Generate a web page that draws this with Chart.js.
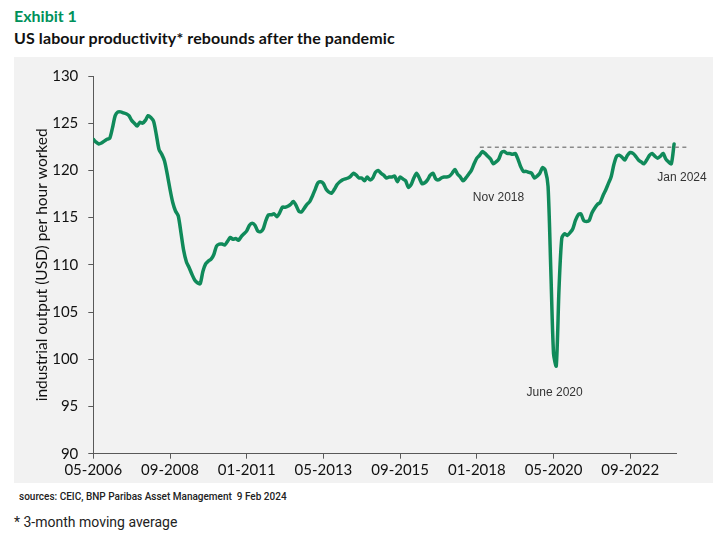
<!DOCTYPE html>
<html><head><meta charset="utf-8">
<script src="https://cdn.jsdelivr.net/npm/chart.js@4.4.1/dist/chart.umd.min.js"></script>
<style>
html,body{margin:0;padding:0;background:#fff;width:725px;height:540px;overflow:hidden;}
#t1{position:absolute;left:14px;top:6px;font:bold 16px Lato;color:#00915A;white-space:nowrap;}
#t2{position:absolute;left:14px;top:28px;font:bold 16px Lato;letter-spacing:0.1px;color:#111;white-space:nowrap;}
#panel{position:absolute;left:14px;top:57px;width:699px;height:426px;background:#f2f2f2;}
#src{position:absolute;left:19px;top:491px;font:500 10px Roboto;color:#222;white-space:nowrap;}
#note{position:absolute;left:14px;top:514px;font:14px Roboto;color:#222;white-space:nowrap;}
</style></head>
<body>
<div id="t1">Exhibit 1</div>
<div id="t2">US labour productivity* rebounds after the pandemic</div>
<div id="panel"><canvas id="c" width="699" height="426"></canvas></div>
<div id="src">sources: CEIC, BNP Paribas Asset Management&nbsp; 9 Feb 2024</div>
<div id="note">* 3-month moving average</div>
<script>
// Monthly values, May 2006 (index 0) to Jan 2024 (index 212)
const productivity = [
123.3,123.0,122.8,122.9,123.1,123.3,123.4,124.5,125.8,126.2,
126.2,126.1,126.0,125.8,125.3,125.0,124.7,125.1,125.0,125.3,
125.8,125.6,125.2,123.8,122.2,121.7,121.0,119.6,118.0,116.6,
115.7,115.2,113.4,111.5,110.3,109.7,109.0,108.4,108.1,108.0,
109.3,110.1,110.4,110.6,111.1,112.0,112.2,112.2,112.1,112.5,
112.9,112.7,112.8,112.6,113.0,113.3,113.6,114.2,114.4,114.2,
113.6,113.5,113.8,114.7,115.3,115.3,115.4,115.1,115.5,116.1,
116.1,116.2,116.4,116.7,116.3,115.7,115.6,116.0,116.4,116.7,
117.3,118.0,118.7,118.8,118.6,118.0,117.7,117.6,118.0,118.5,
118.8,119.0,119.1,119.2,119.4,119.7,119.5,119.2,119.2,118.9,
119.3,119.0,119.2,119.8,120.0,119.7,119.5,119.2,119.3,119.3,
119.4,118.8,119.3,119.1,118.9,118.2,118.5,119.2,119.7,119.2,
118.6,118.7,119.0,119.5,119.7,119.1,119.0,119.2,119.3,119.3,
119.4,119.7,120.1,119.6,119.3,118.9,119.2,119.6,120.0,120.7,
121.3,121.6,122.0,121.8,121.5,121.2,120.7,120.9,121.2,121.9,
122.0,121.8,121.8,121.7,121.8,121.2,120.4,119.9,119.9,119.8,
119.7,119.2,119.4,119.7,120.3,120.0,118.3,109.5,100.6,99.3,
107.5,112.8,113.3,113.1,113.4,113.8,114.7,115.3,115.4,114.7,
114.6,114.7,115.5,116.0,116.4,116.6,117.3,117.9,118.6,119.3,
120.6,121.5,121.6,121.4,121.1,121.6,121.9,121.8,121.5,121.1,
120.9,120.7,121.1,121.6,121.8,121.5,121.3,121.5,121.8,121.2,
120.9,120.7,122.8
];
const tickPositions = [0,28,56,84,112,140,168,196];
const tickLabels = ["05-2006","09-2008","01-2011","05-2013","09-2015","01-2018","05-2020","09-2022"];
const yTicks = [90,95,100,105,110,115,120,125,130];
const annotTexts = ["Nov 2018","June 2020","Jan 2024"];
const annotX = [147.9,168.4,214.9];
const annotY = [117.1,96.5,119.2];
const refLevel = 122.45;
const refFrom = 141.1, refTo = 217.2;

const annotPlugin = {
  id:'annot',
  afterDatasetsDraw(chart){
    const {ctx, scales:{x,y}} = chart;
    ctx.save();
    ctx.strokeStyle = '#8a8a8a';
    ctx.lineWidth = 1.5;
    ctx.setLineDash([4,3.5]);
    ctx.beginPath();
    ctx.moveTo(x.getPixelForValue(refFrom), y.getPixelForValue(refLevel));
    ctx.lineTo(x.getPixelForValue(refTo), y.getPixelForValue(refLevel));
    ctx.stroke();
    ctx.setLineDash([]);
    ctx.fillStyle = '#333';
    ctx.font = '12px "Liberation Sans", Arial';
    ctx.textAlign = 'center';
    ctx.textBaseline = 'middle';
    annotTexts.forEach((t,i)=>{
      ctx.fillText(t, x.getPixelForValue(annotX[i]), y.getPixelForValue(annotY[i]));
    });
    ctx.restore();
  }
};

new Chart(document.getElementById('c'), {
  type:'line',
  data:{datasets:[{
    data: productivity.map((v,i)=>({x:i,y:v})),
    borderColor:'#108a5a',
    borderWidth:3.5,
    pointRadius:0,
    tension:0.25,
    borderJoinStyle:'round',
    borderCapStyle:'round',
    fill:false
  }]},
  options:{
    responsive:false,
    animation:false,
    layout:{padding:{top:15.3,right:37,bottom:0,left:0}},
    plugins:{legend:{display:false},tooltip:{enabled:false}},
    scales:{
      x:{
        type:'linear', min:0, max:212.7,
        afterBuildTicks:s=>{ s.ticks = tickPositions.map(v=>({value:v})); },
        afterFit:s=>{ s.height = 29.3; },
        ticks:{autoSkip:false,maxRotation:0,padding:2,color:'#111',font:{family:'Lato',size:15},
          callback:(v)=>{ const k = tickPositions.indexOf(v); return k>=0 ? tickLabels[k] : ''; }},
        grid:{drawOnChartArea:false,drawTicks:true,tickLength:5,color:'#595959'},
        border:{color:'#595959',width:1}
      },
      y:{
        min:90,max:130,
        afterBuildTicks:s=>{ s.ticks = yTicks.map(v=>({value:v})); },
        afterFit:s=>{ s.width = 79.3; },
        ticks:{padding:10,color:'#111',font:{family:'Lato',size:15}},
        grid:{drawOnChartArea:false,drawTicks:true,tickLength:5,color:'#595959'},
        border:{color:'#595959',width:1},
        title:{display:true,text:'industrial output (USD) per hour worked',color:'#111',
          font:{family:'Lato',size:15.5},padding:{top:18.5,bottom:0}}
      }
    }
  },
  plugins:[annotPlugin]
});
</script>
</body></html>
